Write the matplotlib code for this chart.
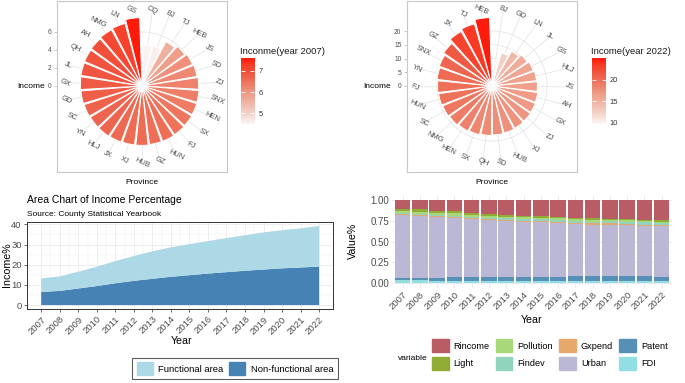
import numpy as np
import matplotlib
matplotlib.use('Agg')
import matplotlib.pyplot as plt
from matplotlib.colors import LinearSegmentedColormap, Normalize
from matplotlib.patches import Patch

plt.rcParams['font.family'] = ['Liberation Sans', 'DejaVu Sans']

# ---- data ----
prov_2007 = ['CQ', 'BJ', 'TJ', 'HEB', 'JS', 'SD', 'ZJ', 'SNX', 'HEN', 'SX', 'FJ', 'HUN', 'GZ', 'HUB',
             'XJ', 'JX', 'HLJ', 'YN', 'SC', 'GD', 'GX', 'JL', 'QH', 'AH', 'NMG', 'LN', 'GS']
inc_2007 = [4.55, 4.6, 5.6, 5.9, 6.1, 6.2, 6.3, 6.35, 6.4, 6.45, 6.5, 6.55, 6.55, 6.6,
            6.6, 6.65, 6.7, 6.7, 6.75, 6.8, 6.85, 6.9, 6.95, 7.0, 7.1, 7.2, 7.6]
lim_2007 = (4.5, 7.6)

prov_2022 = ['BJ', 'GD', 'LN', 'JL', 'GS', 'HLJ', 'JS', 'AH', 'GX', 'ZJ', 'XJ', 'HUB', 'SD',
             'QH', 'SX', 'HEN', 'NMG', 'SC', 'HUN', 'FJ', 'YN', 'SNX', 'GZ', 'JX', 'TJ', 'HEB']
inc_2022 = [9.7, 12.5, 14.5, 15.5, 16.0, 16.3, 16.5, 16.8, 17.0, 17.2, 17.4, 17.6, 17.8,
            18.0, 18.3, 18.6, 19.0, 19.3, 19.6, 19.8, 20.1, 20.5, 21.3, 22.8, 23.5, 24.9]
lim_2022 = (9.7, 25.0)

years = [2007, 2008, 2009, 2010, 2011, 2012, 2013, 2014,
         2015, 2016, 2017, 2018, 2019, 2020, 2021, 2022]
non_functional = [6.5, 7.0, 8.2, 9.4, 10.8, 12.0, 13.0, 14.0,
                  14.8, 15.6, 16.3, 17.0, 17.6, 18.2, 18.6, 19.1]
functional = [6.7, 7.2, 8.3, 9.6, 11.0, 12.3, 13.6, 14.6,
              15.4, 16.1, 16.9, 17.6, 18.4, 18.9, 19.4, 20.1]

fdi = [0.035, 0.034, 0.033, 0.033, 0.032, 0.032, 0.031, 0.031, 0.030, 0.030, 0.030, 0.029, 0.028, 0.028, 0.027, 0.025]
patent = [0.030, 0.033, 0.036, 0.040, 0.043, 0.047, 0.048, 0.049, 0.050, 0.051, 0.053, 0.055, 0.056, 0.060, 0.058, 0.052]
urban = [0.755, 0.740, 0.725, 0.712, 0.695, 0.675, 0.668, 0.658, 0.653, 0.644, 0.630, 0.620, 0.620, 0.612, 0.605, 0.610]
gxpend = [0.010, 0.011, 0.012, 0.012, 0.012, 0.013, 0.013, 0.013, 0.013, 0.013, 0.014, 0.014, 0.014, 0.015, 0.015, 0.015]
findev = [0.012, 0.013, 0.014, 0.016, 0.017, 0.018, 0.019, 0.020, 0.021, 0.022, 0.022, 0.023, 0.024, 0.024, 0.025, 0.025]
pollution = [0.030, 0.030, 0.028, 0.027, 0.025, 0.023, 0.021, 0.020, 0.019, 0.018, 0.017, 0.016, 0.015, 0.015, 0.014, 0.014]
light = [0.025, 0.025, 0.024, 0.023, 0.023, 0.022, 0.022, 0.021, 0.021, 0.021, 0.021, 0.021, 0.020, 0.020, 0.020, 0.021]
rincome = [0.103, 0.114, 0.128, 0.137, 0.153, 0.170, 0.178, 0.188, 0.193, 0.201, 0.213, 0.222, 0.223, 0.226, 0.236, 0.238]

variables = ['Rincome', 'Light', 'Pollution', 'Findev', 'Gxpend', 'Urban', 'Patent', 'FDI']
var_values = [rincome, light, pollution, findev, gxpend, urban, patent, fdi]
var_colors = ['#BA5C64', '#90AC34', '#A9D87B', '#90D4BE', '#E6A86B', '#BAB8D4', '#5790B6', '#93DEE3']

W, H = 685, 383


def rect(x0, y0, x1, y1):
    # pixel box (top-left origin) -> figure fraction
    return [x0 / W, 1 - y1 / H, (x1 - x0) / W, (y1 - y0) / H]


# light -> red fill gradient
cmap = LinearSegmentedColormap.from_list('wr', [
    (0.0, '#FBF6F4'), (0.18, '#F3CFC4'), (0.31, '#F1B8A8'), (0.44, '#EFA08C'),
    (0.53, '#EE8D78'), (0.66, '#EE7058'), (0.76, '#EF5A45'), (0.9, '#F93A25'),
    (1.0, '#FF1A0A')])

fig = plt.figure(figsize=(W / 100, H / 100), dpi=100)


def polar_chart(x0, provinces, values, lims, ppu, rticks, cticks, title, lx):
    norm = Normalize(*lims)
    frame = fig.add_axes(rect(x0, 1, x0 + 170, 172))
    frame.set_xticks([])
    frame.set_ylim(-86 / ppu, 85 / ppu)
    frame.set_yticks(rticks)
    frame.tick_params(axis='y', length=2.5, width=0.5, color='#B3B3B3',
                      labelsize=4.8, labelcolor='#4D4D4D', pad=1.5)
    for s in frame.spines.values():
        s.set_color('#C8C8C8')
        s.set_linewidth(0.8)
    frame.set_ylabel('Income', rotation=0, ha='right', va='center', fontsize=6, labelpad=2)
    frame.set_xlabel('Province', fontsize=6, labelpad=5)

    ax = fig.add_axes(rect(x0, 1, x0 + 170, 171), projection='polar')
    ax.set_theta_zero_location('N')
    ax.set_theta_direction(-1)
    n = len(provinces)
    theta = 2 * np.pi * (np.arange(1, n + 1) - 0.4) / (n + 0.2)
    width = 2 * np.pi * 0.9 / (n + 0.2)
    circle = np.linspace(0, 2 * np.pi, 300)
    for r in rticks[1:]:
        ax.plot(circle, np.full_like(circle, r), color='#E6E6E6', lw=0.6, zorder=1)
    for t in theta:
        ax.plot([t, t], [0, 76 / ppu], color='#E6E6E6', lw=0.6, zorder=1)
    ax.bar(theta, values, width=width, color=cmap(norm(np.array(values))),
           edgecolor='white', linewidth=0.7, zorder=3)
    for t, p in zip(theta, provinces):
        ax.text(t, 77 / ppu, p, rotation=-25, ha='center', va='center',
                fontsize=5.4, color='#4D4D4D')
    ax.set_ylim(0, 85 / ppu)
    ax.set_axis_off()

    # colour bar legend
    fig.text(lx / W, 1 - 51 / H, title, fontsize=6.8, ha='left', va='center', color='#1A1A1A')
    cax = fig.add_axes(rect(lx + 0.5, 58, lx + 14.5, 124))
    grad = np.linspace(lims[0], lims[1], 200).reshape(-1, 1)
    cax.imshow(grad, cmap=cmap, norm=norm, aspect='auto', origin='lower',
               extent=(0, 1, lims[0], lims[1]))
    cax.set_xticks([])
    cax.set_yticks(cticks)
    cax.tick_params(axis='y', direction='in', left=True, right=True, labelleft=False,
                    labelright=True, color='white', length=3, width=0.6,
                    labelsize=5.4, labelcolor='#333333', pad=3)
    for s in cax.spines.values():
        s.set_visible(False)


polar_chart(57, prov_2007, inc_2007, lim_2007, 9.0, [0, 2, 4, 6], [5, 6, 7],
            'Inconme(year 2007)', 240)
polar_chart(407, prov_2022, inc_2022, lim_2022, 2.75, [0, 5, 10, 15, 20], [10, 15, 20],
            'Income(year 2022)', 591)

# ---- area chart ----
ax = fig.add_axes(rect(27.3, 222, 333, 309))
ax.stackplot(years, non_functional, functional, colors=['#4682B4', '#ADD8E6'], zorder=2)
ax.set_xlim(2006.25, 2022.75)
ax.set_ylim(-1.96, 41.16)
ax.set_xticks(years)
ax.set_xticks([y + 0.5 for y in years[:-1]], minor=True)
ax.set_yticks([0, 10, 20, 30, 40])
ax.set_yticks([5, 15, 25, 35], minor=True)
ax.grid(which='major', color='#EBEBEB', lw=0.6, zorder=0)
ax.grid(which='minor', color='#F2F2F2', lw=0.35, zorder=0)
ax.set_axisbelow(True)
ax.tick_params(which='major', length=2.5, width=0.5, color='#333333', labelsize=6.8,
               labelcolor='#4D4D4D', pad=1.5)
ax.tick_params(which='minor', length=0)
plt.setp(ax.get_xticklabels(), rotation=45, ha='right', rotation_mode='anchor')
for s in ax.spines.values():
    s.set_color('#333333')
    s.set_linewidth(0.7)
fig.text(7 / W, 1 - 265 / H, 'Income%', rotation=90, ha='center', va='center', fontsize=7.7)
fig.text(182 / W, 1 - 341 / H, 'Year', ha='center', va='center', fontsize=7.7)
fig.text(27 / W, 1 - 200 / H, 'Area Chart of Income Percentage', ha='left', va='center', fontsize=7.5)
fig.text(27 / W, 1 - 214 / H, 'Source: County Statistical Yearbook', ha='left', va='center', fontsize=6)
leg = fig.legend([Patch(color='#ADD8E6'), Patch(color='#4682B4')],
                 ['Functional area', 'Non-functional area'], ncol=2, loc='center',
                 bbox_to_anchor=(235 / W, 1 - 368.5 / H), fontsize=6.8, frameon=True,
                 fancybox=False, handlelength=1.7, handleheight=1.7, handletextpad=0.55,
                 columnspacing=0.65, borderpad=0.45, borderaxespad=0)
leg.get_frame().set_edgecolor('#333333')
leg.get_frame().set_linewidth(0.8)

# ---- stacked proportion bars ----
bx = fig.add_axes(rect(392.3, 195.8, 672, 287.5))
bottom = np.zeros(len(years))
for name, vals, col in reversed(list(zip(variables, var_values, var_colors))):
    bx.bar(years, vals, bottom=bottom, width=0.9, color=col, zorder=2)
    bottom += np.array(vals)
bx.set_xlim(2006.4, 2022.6)
bx.set_ylim(-0.05, 1.05)
bx.set_xticks(years)
bx.set_yticks([0, 0.25, 0.5, 0.75, 1.0])
bx.set_yticklabels(['0.00', '0.25', '0.50', '0.75', '1.00'])
bx.set_yticks([0.125, 0.375, 0.625, 0.875], minor=True)
bx.grid(which='major', color='#EBEBEB', lw=0.7, zorder=0)
bx.grid(which='minor', axis='y', color='#F2F2F2', lw=0.35, zorder=0)
bx.set_axisbelow(True)
bx.tick_params(which='both', length=0, labelsize=7, labelcolor='#4D4D4D', pad=2)
plt.setp(bx.get_xticklabels(), rotation=45, ha='right', rotation_mode='anchor', fontsize=6.8)
for s in bx.spines.values():
    s.set_visible(False)
fig.text(353 / W, 1 - 241 / H, 'Value%', rotation=90, ha='center', va='center', fontsize=7.7)
fig.text(532 / W, 1 - 320 / H, 'Year', ha='center', va='center', fontsize=7.7)
fig.text(398 / W, 1 - 358 / H, 'variable', ha='left', va='center', fontsize=6)
fig.legend([Patch(color=c) for c in var_colors], variables, ncol=4, loc='upper left',
           bbox_to_anchor=(432 / W, 1 - 339.3 / H), frameon=False, fontsize=6.6,
           handlelength=1.82, handleheight=1.82, handletextpad=0.55, columnspacing=0.65,
           labelspacing=0.5, borderpad=0, borderaxespad=0)

fig.savefig('out.png', dpi=100)
